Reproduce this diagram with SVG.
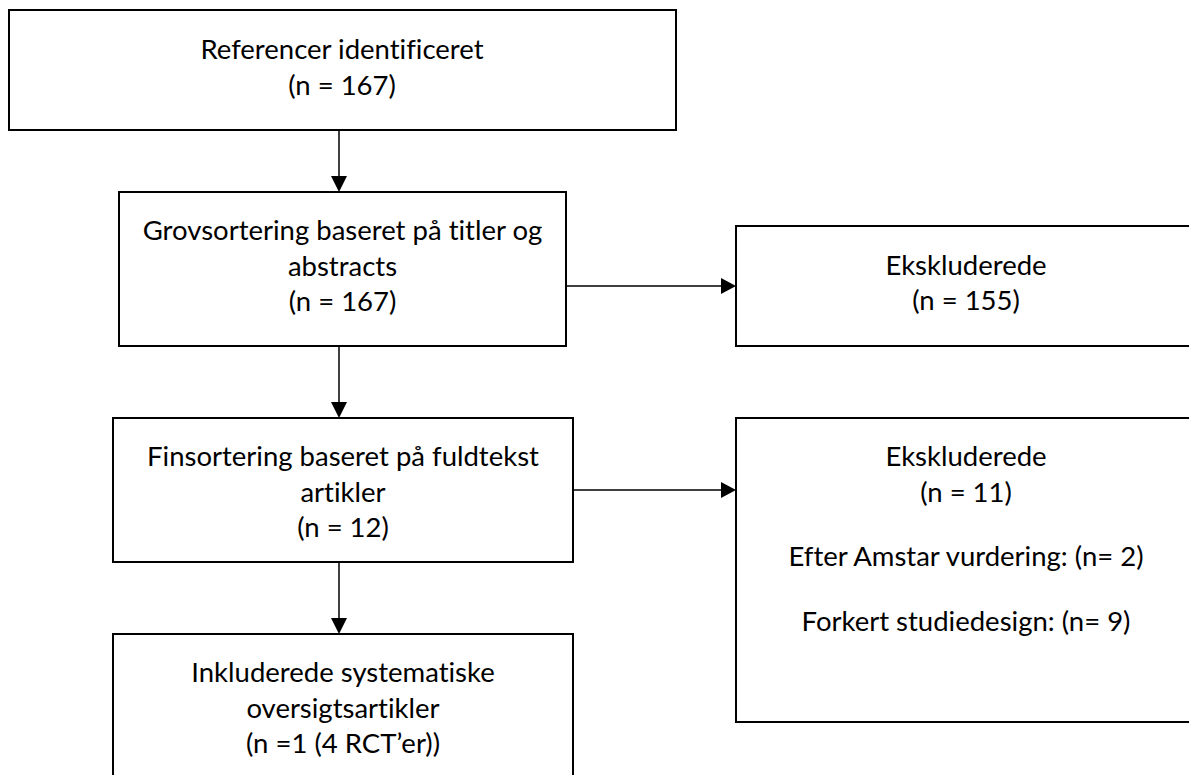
<svg xmlns="http://www.w3.org/2000/svg" width="1189" height="775" viewBox="0 0 1189 775">
<style>
.box{fill:#fff;stroke:#000;stroke-width:2}
.t{font-family:Lato,"Liberation Sans",sans-serif;font-size:27.5px;fill:#000;text-anchor:middle;font-variant-ligatures:none}
.c{stroke:#000;stroke-width:1.5;fill:none}
.h{fill:#000;stroke:none}
</style>
<rect width="1189" height="775" fill="#fff"/>
<g id="connectors">
<line class="c" x1="339" y1="130" x2="339" y2="178"/>
<polygon class="h" points="331,176 347,176 339,192"/>
<line class="c" x1="339" y1="346" x2="339" y2="404"/>
<polygon class="h" points="331,402 347,402 339,418"/>
<line class="c" x1="339" y1="562" x2="339" y2="620"/>
<polygon class="h" points="331,618 347,618 339,634"/>
<line class="c" x1="566" y1="286" x2="723" y2="286"/>
<polygon class="h" points="721,278 721,294 736,286"/>
<line class="c" x1="573" y1="490" x2="723" y2="490"/>
<polygon class="h" points="721,482 721,498 736,490"/>
</g>
<g id="n1">
<rect class="box" x="9" y="10" width="667" height="120"/>
<text class="t" x="342" y="59">Referencer identificeret</text>
<text class="t" x="342" y="95">(n = 167)</text>
</g>
<g id="n2">
<rect class="box" x="119" y="192" width="447" height="154"/>
<text class="t" x="342.5" y="240">Grovsortering baseret på titler og</text>
<text class="t" x="342.5" y="275.5">abstracts</text>
<text class="t" x="342.5" y="311">(n = 167)</text>
</g>
<g id="n3">
<rect class="box" x="113" y="418" width="460" height="144"/>
<text class="t" x="343" y="466">Finsortering baseret på fuldtekst</text>
<text class="t" x="343" y="501.5">artikler</text>
<text class="t" x="343" y="537">(n = 12)</text>
</g>
<g id="n4">
<rect class="box" x="113" y="634" width="460" height="170"/>
<text class="t" x="343" y="682">Inkluderede systematiske</text>
<text class="t" x="343" y="717.5">oversigtsartikler</text>
<text class="t" x="343" y="753">(n =1 (4 RCT’er))</text>
</g>
<g id="e1">
<rect class="box" x="736" y="226" width="460" height="120"/>
<text class="t" x="966" y="274.5">Ekskluderede</text>
<text class="t" x="966" y="310">(n = 155)</text>
</g>
<g id="e2">
<rect class="box" x="736" y="418" width="460" height="304"/>
<text class="t" x="966" y="465.5">Ekskluderede</text>
<text class="t" x="966" y="501.5">(n = 11)</text>
<text class="t" x="966" y="566">Efter Amstar vurdering: (n= 2)</text>
<text class="t" x="966" y="630.5">Forkert studiedesign: (n= 9)</text>
</g>
</svg>
